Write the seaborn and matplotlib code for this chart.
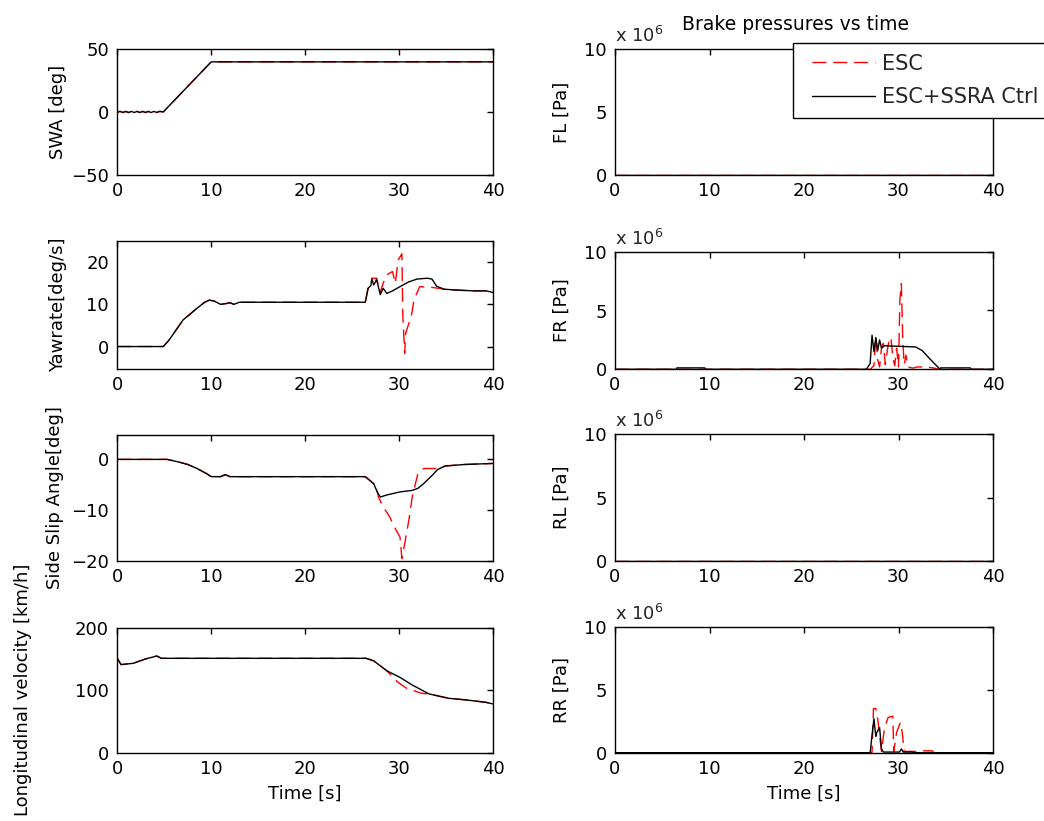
import numpy as np
import pandas as pd
import matplotlib
matplotlib.use("Agg")
import matplotlib.pyplot as plt
from matplotlib.lines import Line2D
from matplotlib.legend_handler import HandlerLine2D
import seaborn as sns

# ---------------- data ----------------
x_ticks = [0, 10, 20, 30, 40]
series_names = ["ESC", "ESC+SSRA Ctrl"]

# Steering wheel angle (both controllers identical)
t_swa = [0.0, 0.3, 0.6, 0.9, 1.2, 1.5, 1.8, 2.1, 2.4, 2.7, 3.0, 3.3, 3.6, 3.9, 4.2, 4.5, 4.9, 10.0, 40.0]
swa = [0.0, 0.6, -0.3, 0.6, -0.3, 0.6, -0.3, 0.6, -0.3, 0.6, -0.3, 0.6, -0.3, 0.6, -0.3, 0.6, 0.2, 40.0, 40.0]

# Yaw rate
t_yaw_ctrl = [0, 4.9, 5.5, 7.0, 8.5, 9.3, 9.8, 10.3, 11.0, 11.6, 12.0, 12.4, 13.0, 26.4, 26.7, 27.0,
              27.1, 27.3, 27.5, 27.6, 28.0, 28.3, 28.7, 29.3, 30.1, 31.0, 31.9, 33.0, 33.5, 34.0,
              34.8, 36.0, 38.0, 39.3, 40.0]
yaw_ctrl = [0, 0, 1.5, 6.3, 9.1, 10.5, 11.0, 10.8, 10.0, 10.2, 10.4, 10.0, 10.5, 10.5, 13.8, 14.5,
            16.0, 14.6, 15.4, 16.0, 12.3, 13.8, 12.6, 13.2, 14.2, 15.3, 16.0, 16.2, 16.0, 14.3,
            13.6, 13.4, 13.2, 13.2, 12.8]
t_yaw_esc = [0, 4.9, 5.5, 7.0, 8.5, 9.3, 9.8, 10.3, 11.0, 11.6, 12.0, 12.4, 13.0, 26.4, 26.7, 27.0,
             27.1, 27.6, 28.0, 28.3, 28.7, 29.3, 29.6, 29.9, 30.3, 30.4, 30.6, 30.7, 31.3, 31.6,
             32.2, 33.6, 34.8, 36.0, 38.0, 39.3, 40.0]
yaw_esc = [0, 0, 1.5, 6.3, 9.1, 10.5, 11.0, 10.8, 10.0, 10.2, 10.4, 10.0, 10.5, 10.5, 13.8, 14.5,
           16.2, 16.2, 12.9, 15.0, 17.0, 17.8, 15.0, 20.5, 22.0, 7.2, -1.6, 3.2, 7.2, 11.2,
           14.2, 14.0, 13.6, 13.4, 13.2, 13.2, 12.8]

# Side slip angle
t_beta_ctrl = [0, 5.3, 6.5, 7.5, 8.5, 9.5, 10.0, 11.0, 11.5, 12.0, 26.4, 26.8, 27.3, 27.7, 28.0,
               28.7, 30.1, 31.4, 32.0, 32.6, 33.6, 34.1, 34.9, 37.0, 40.0]
beta_ctrl = [0, 0, -0.5, -1.0, -1.8, -2.8, -3.4, -3.4, -3.0, -3.4, -3.4, -4.0, -4.8, -6.5, -7.4,
             -7.0, -6.4, -6.1, -5.7, -4.8, -3.0, -2.0, -1.3, -1.0, -0.8]
t_beta_esc = [0, 5.3, 6.5, 7.5, 8.5, 9.5, 10.0, 11.0, 11.5, 12.0, 26.4, 26.8, 27.3, 27.7, 27.8,
              28.3, 29.0, 29.5, 30.1, 30.3, 30.6, 31.1, 31.4, 32.0, 32.6, 33.6, 34.3, 34.9, 37.0, 40.0]
beta_esc = [0, 0, -0.5, -1.0, -1.8, -2.8, -3.4, -3.4, -3.0, -3.4, -3.4, -4.0, -4.8, -6.5, -7.4,
            -9.3, -11.3, -13.3, -15.3, -19.5, -16.6, -11.3, -7.4, -2.8, -1.8, -1.8, -1.8, -1.3, -1.0, -0.8]

# Longitudinal velocity
t_vx_ctrl = [0, 0.4, 1.7, 3.0, 4.2, 4.7, 26.5, 27.3, 28.7, 30.1, 31.4, 33.2, 35.3, 37.1, 39.2, 40.0]
vx_ctrl = [151, 141, 143, 150, 154.7, 151, 151, 147, 131, 120.5, 108.3, 94, 87, 84.5, 80.7, 78]
t_vx_esc = [0, 0.4, 1.7, 3.0, 4.2, 4.7, 26.5, 27.3, 28.7, 29.8, 30.8, 32.4, 33.2, 35.3, 37.1, 39.2, 40.0]
vx_esc = [151, 141, 143, 150, 154.7, 151, 151, 147, 131, 113.6, 103, 95, 94, 87, 84.5, 80.7, 78]

# Brake pressures, in units of 1e6 Pa
t_fl = [0, 40]
fl_esc = [0, 0]
fl_ctrl = [0, 0]

t_fr_ctrl = [0, 6.5, 6.55, 9.5, 9.55, 26.6, 27.0, 27.2, 27.4, 27.6, 27.8, 28.0, 28.2, 28.5, 31.8,
             32.5, 33.3, 34.4, 34.45, 37.6, 37.65, 40]
fr_ctrl = [0, 0, 0.12, 0.12, 0, 0, 0.5, 2.9, 1.5, 2.7, 1.6, 2.5, 1.8, 2.0, 1.9,
           1.6, 0.9, 0.0, 0.12, 0.12, 0, 0]
t_fr_esc = [0, 27.0, 27.4, 27.6, 27.8, 28.0, 28.2, 28.4, 28.6, 28.8, 29.0, 29.2, 29.4, 29.6, 29.8,
            30.0, 30.15, 30.3, 30.45, 30.6, 30.8, 31.0, 31.5, 32.0, 33.0, 33.8, 34.2, 40]
fr_esc = [0, 0, 0.3, 2.8, 0.8, 0.2, 1.8, 2.2, 0.4, 1.5, 2.5, 2.7, 1.0, 0.3, 1.8,
          0.2, 6.0, 7.3, 2.5, 0.4, 1.2, 0.2, 0.1, 0.2, 0.2, 0.1, 0, 0]

t_rl = [0, 40]
rl_esc = [0, 0]
rl_ctrl = [0, 0]

t_rr_ctrl = [0, 27.0, 27.2, 27.4, 27.6, 27.7, 28.0, 28.2, 28.4, 30.1, 30.3, 30.5, 31.5, 31.6, 40]
rr_ctrl = [0, 0, 1.4, 2.7, 1.3, 1.6, 2.0, 0.3, 0.05, 0.05, 0.3, 0.05, 0.05, 0, 0]
t_rr_esc = [0, 27.2, 27.35, 27.6, 27.8, 28.2, 28.5, 28.9, 29.4, 29.5, 29.8, 30.2, 30.4, 30.6,
            31.9, 32.0, 33.6, 33.7, 40]
rr_esc = [0, 0, 3.5, 3.5, 2.7, 0.1, 1.9, 2.8, 2.9, 0.1, 1.6, 2.4, 1.6, 0.1,
          0.1, 0.15, 0.15, 0, 0]

# ---------------- style ----------------
sns.set_theme(style="white")
plt.rcParams["font.family"] = ["DejaVu Sans"]
plt.rcParams["font.size"] = 13
plt.rcParams["axes.edgecolor"] = "black"
plt.rcParams["axes.linewidth"] = 1.0

FS = 13
RED_DASH = (0, (10, 5))

fig = plt.figure(figsize=(10.44, 8.21), dpi=100)
fig.patch.set_facecolor("white")

W, H = 1044.0, 821.0
def rect(x0, x1, y0, y1):
    return [x0 / W, 1 - y1 / H, (x1 - x0) / W, (y1 - y0) / H]

LX0, LX1 = 117.3, 493.0
RX0, RX1 = 615.0, 993.0

ax_swa = fig.add_axes(rect(LX0, LX1, 49.3, 175.0))
ax_yaw = fig.add_axes(rect(LX0, LX1, 240.7, 369.3))
ax_beta = fig.add_axes(rect(LX0, LX1, 435.0, 561.0))
ax_vx = fig.add_axes(rect(LX0, LX1, 627.7, 752.7))
ax_fl = fig.add_axes(rect(RX0, RX1, 49.3, 175.0))
ax_fr = fig.add_axes(rect(RX0, RX1, 251.7, 369.3))
ax_rl = fig.add_axes(rect(RX0, RX1, 434.3, 561.0))
ax_rr = fig.add_axes(rect(RX0, RX1, 626.7, 752.7))


def draw(ax, t_esc, y_esc, t_ctrl, y_ctrl, scale=1.0, labels=False):
    d_esc = pd.DataFrame({"t": t_esc, "v": np.asarray(y_esc, dtype=float) * scale})
    d_ctrl = pd.DataFrame({"t": t_ctrl, "v": np.asarray(y_ctrl, dtype=float) * scale})
    sns.lineplot(data=d_esc, x="t", y="v", ax=ax, color="#ff0000", linestyle=RED_DASH,
                 linewidth=1.0, estimator=None, sort=False,
                 label=series_names[0] if labels else None)
    sns.lineplot(data=d_ctrl, x="t", y="v", ax=ax, color="black", linestyle="-",
                 linewidth=1.0, estimator=None, sort=False,
                 label=series_names[1] if labels else None)


def style(ax, ylim, yticks, ylabel, label_x, xlabel=None, pressure=False):
    ax.set_xlim(0, 40)
    ax.set_ylim(*ylim)
    ax.set_xticks(x_ticks)
    ax.set_yticks(yticks)
    if pressure:
        ax.set_yticklabels([f"{v / 1e6:g}" for v in yticks])
        ax.text(0.0, 1.025, r"x 10$^{6}$", transform=ax.transAxes, ha="left", va="bottom",
                fontsize=FS)
    ax.tick_params(direction="in", top=True, right=True, length=4, width=1.0,
                   labelsize=FS, colors="black")
    ax.tick_params(axis="x", pad=5)
    ax.tick_params(axis="y", pad=6)
    for s in ax.spines.values():
        s.set_visible(True)
        s.set_color("black")
        s.set_linewidth(1.0)
    ax.set_ylabel(ylabel, fontsize=FS, color="black")
    ax.yaxis.set_label_coords(label_x, 0.5)
    if xlabel:
        ax.set_xlabel(xlabel, fontsize=FS, color="black", labelpad=5)
    else:
        ax.set_xlabel("")
    ax.set_facecolor("white")
    ax.grid(False)


draw(ax_swa, t_swa, swa, t_swa, swa)
style(ax_swa, (-50, 50), [-50, 0, 50], "SWA [deg]", -0.134)

draw(ax_yaw, t_yaw_esc, yaw_esc, t_yaw_ctrl, yaw_ctrl)
style(ax_yaw, (-5.4, 25.1), [0, 10, 20], "Yawrate[deg/s]", -0.134)

draw(ax_beta, t_beta_esc, beta_esc, t_beta_ctrl, beta_ctrl)
style(ax_beta, (-20, 4.8), [-20, -10, 0], "Side Slip Angle[deg]", -0.142)

draw(ax_vx, t_vx_esc, vx_esc, t_vx_ctrl, vx_ctrl)
style(ax_vx, (0, 200), [0, 100, 200], "Longitudinal velocity [km/h]", -0.227, xlabel="Time [s]")

P = 1e6
draw(ax_fl, t_fl, fl_esc, t_fl, fl_ctrl, scale=P, labels=True)
style(ax_fl, (0, 10 * P), [0, 5 * P, 10 * P], "FL [Pa]", -0.116, pressure=True)
ax_fl.set_title("Brake pressures vs time", fontsize=13.5, pad=14, color="black", x=0.477)

draw(ax_fr, t_fr_esc, fr_esc, t_fr_ctrl, fr_ctrl, scale=P)
style(ax_fr, (0, 10 * P), [0, 5 * P, 10 * P], "FR [Pa]", -0.116, pressure=True)

draw(ax_rl, t_rl, rl_esc, t_rl, rl_ctrl, scale=P)
style(ax_rl, (0, 10 * P), [0, 5 * P, 10 * P], "RL [Pa]", -0.116, pressure=True)

draw(ax_rr, t_rr_esc, rr_esc, t_rr_ctrl, rr_ctrl, scale=P)
style(ax_rr, (0, 10 * P), [0, 5 * P, 10 * P], "RR [Pa]", -0.116, xlabel="Time [s]", pressure=True)

handles, labels = ax_fl.get_legend_handles_labels()
for a in [ax_swa, ax_yaw, ax_beta, ax_vx, ax_fl, ax_fr, ax_rl, ax_rr]:
    if a.get_legend() is not None:
        a.get_legend().remove()

LFS = 15
leg = fig.legend(handles, labels, loc="upper left", bbox_to_anchor=(793 / W, 1 - 42.7 / H),
                 borderaxespad=0, fontsize=LFS, frameon=True, fancybox=False,
                 handlelength=3.41, handletextpad=0.34, borderpad=0.52, labelspacing=0.66,
                 edgecolor="black", framealpha=1,
                 handler_map={Line2D: HandlerLine2D(xpad=0.385)})
leg.get_frame().set_linewidth(1.0)

fig.savefig("out.png", dpi=100, facecolor="white")
